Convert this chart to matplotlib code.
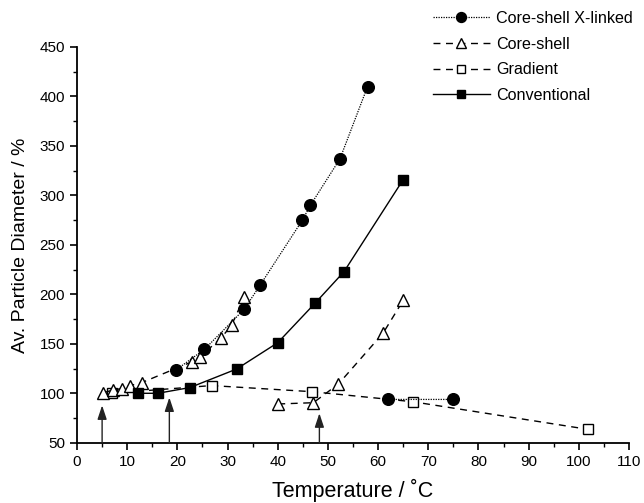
import numpy as np
import matplotlib
matplotlib.use('Agg')
import matplotlib.pyplot as plt

plt.rcParams['font.family'] = ['Liberation Sans', 'DejaVu Sans']

# Core-shell X-linked (filled circles), NaN breaks the line
xl_t = [19.7, 25.4, 33.3, 36.5, 44.9, 46.5, 52.4, 57.9, np.nan, 62.0, 75.0]
xl_d = [123.7, 144.6, 185, 209.5, 275, 290, 337, 410, np.nan, 94, 94]

# Core-shell (open triangles)
cs_t = [5.25, 7.2, 8.9, 10.6, 12.9, 22.9, 24.5, 28.7, 30.8, 33.3, np.nan,
        40.1, 47.1, 52.1, 61.0, 65.0]
cs_d = [100.8, 103.5, 105, 108, 111, 132, 137, 156, 169, 197, np.nan,
        89.4, 90.7, 109.6, 161, 194]

# Gradient (open squares)
gr_t = [6.9, 26.8, 46.9, 66.9, 101.8]
gr_d = [100.2, 108, 101.8, 91.7, 63.8]

# Conventional (filled squares)
cv_t = [12.2, 16.1, 22.5, 31.8, 40.0, 47.4, 53.2, 65.0]
cv_d = [100.2, 100.2, 106, 124.7, 151.3, 191, 223, 316]

# arrows (temperature, tip height)
arrow_t = [5.0, 18.4, 48.3]
arrow_tip = [88, 96, 80]

fig = plt.figure(figsize=(6.44, 5.03), dpi=100)
ax = fig.add_axes([0.1196, 0.1193, 0.8571, 0.7873])

ax.plot(gr_t, gr_d, color='k', ls=(0, (5, 4)), lw=1.0, marker='s', ms=7,
        mfc='white', mec='k', mew=1.0, label='Gradient', zorder=2)
ax.plot(cs_t, cs_d, color='k', ls=(0, (5, 4)), lw=1.0, marker='^', ms=9,
        mfc='white', mec='k', mew=1.0, label='Core-shell', zorder=3)
ax.plot(cv_t, cv_d, color='k', ls='-', lw=1.0, marker='s', ms=7,
        mfc='k', mec='k', label='Conventional', zorder=4)
ax.plot(xl_t, xl_d, color='k', ls=(0, (1, 1)), lw=0.9, marker='o', ms=8.4,
        mfc='k', mec='k', label='Core-shell X-linked', zorder=5)

for t, tip in zip(arrow_t, arrow_tip):
    ax.annotate('', xy=(t, tip), xytext=(t, 50),
                arrowprops=dict(arrowstyle='-|>,head_length=0.6,head_width=0.2',
                                color='#222222', lw=1.0,
                                mutation_scale=14, shrinkA=0, shrinkB=0))

ax.set_xlim(0, 110)
ax.set_ylim(50, 450)
ax.set_xticks(np.arange(0, 111, 10))
ax.set_xticks(np.arange(5, 110, 10), minor=True)
ax.set_yticks(np.arange(50, 451, 50))
ax.set_yticks(np.arange(75, 450, 50), minor=True)
for s in ['top', 'right']:
    ax.spines[s].set_visible(False)
for s in ['left', 'bottom']:
    ax.spines[s].set_linewidth(1.3)
ax.tick_params(which='major', direction='out', length=5, width=1.2, labelsize=11)
ax.tick_params(which='minor', direction='out', length=3, width=1.0)

ax.set_xlabel('Temperature / ˚C', fontsize=15.5, labelpad=7)
ax.set_ylabel('Av. Particle Diameter / %', fontsize=14, labelpad=8)

handles, labels = ax.get_legend_handles_labels()
order = [3, 1, 0, 2]
fig.legend([handles[i] for i in order], [labels[i] for i in order],
           loc='upper right', bbox_to_anchor=(1.005, 1.007), frameon=False,
           fontsize=11.6, handlelength=3.5, handletextpad=0.4,
           labelspacing=0.66, markerscale=0.85)

fig.savefig('out.png', dpi=100)
